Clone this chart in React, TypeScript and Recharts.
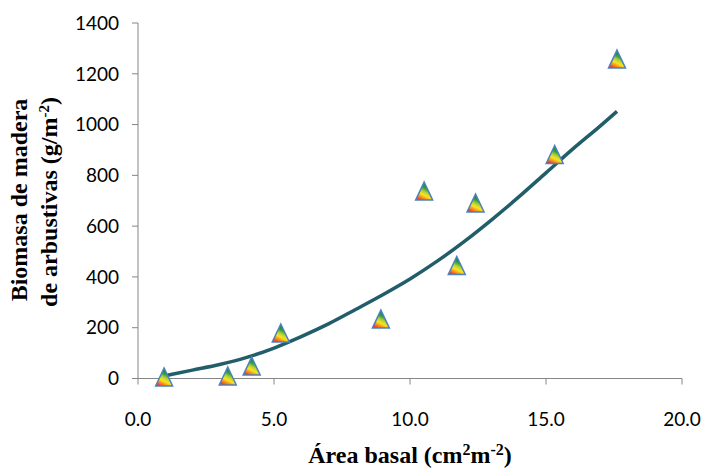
import { ComposedChart, Line, Scatter, XAxis, YAxis } from 'recharts';

// measured points (área basal vs biomasa)
const POINT_X = [0.96, 3.3, 4.18, 5.25, 8.93, 10.52, 11.72, 12.41, 15.32, 17.61];
const POINT_Y = [6, 10, 49, 179, 234, 738, 445, 691, 882, 1258];

// fitted trend line
const TREND_X = [0.96, 2, 3, 4, 5, 6, 7, 8, 9, 10, 11, 12, 13, 14, 15, 16, 17, 17.61];
const TREND_Y = [10, 33, 55, 83, 120, 165, 215, 272, 330, 392, 462, 540, 625, 715, 810, 905, 995, 1052];

const X_TICKS = [0, 5, 10, 15, 20];
const Y_TICKS = [0, 200, 400, 600, 800, 1000, 1200, 1400];

const AXIS_GRAY = '#868686';
const TREND_COLOR = '#215e6a';
const TICK_FONT = 'Lato, "Liberation Sans", sans-serif';
const TITLE_FONT = '"Liberation Serif", "Times New Roman", serif';

const points = POINT_X.map((x, i) => ({ x, y: POINT_Y[i] }));
const trend = TREND_X.map((x, i) => ({ x, y: TREND_Y[i] }));

function TriangleMarker(props: { cx?: number; cy?: number }) {
  const { cx, cy } = props;
  if (cx == null || cy == null) return null;
  const w = 17;
  const h = 18;
  const d = `M${cx},${cy - h / 2} L${cx + w / 2},${cy + h / 2} L${cx - w / 2},${cy + h / 2} Z`;
  return <path d={d} fill="url(#rainbowFill)" stroke="#4f81bd" strokeWidth={1.5} strokeLinejoin="miter" />;
}

export default function App() {
  return (
    <div style={{ position: 'absolute', left: 0, top: 0, width: 704, height: 476, background: '#fff' }}>
      <ComposedChart width={704} height={476} margin={{ top: 23, right: 22, left: 78, bottom: 37.5 }}>
        <defs>
          <linearGradient id="rainbowFill" x1="0.1" y1="1" x2="0.5" y2="0.1">
            <stop offset="0" stopColor="#e5132b" />
            <stop offset="0.22" stopColor="#f6821f" />
            <stop offset="0.42" stopColor="#f9e51c" />
            <stop offset="0.6" stopColor="#b4d336" />
            <stop offset="0.8" stopColor="#2e9e3e" />
            <stop offset="1" stopColor="#13843a" />
          </linearGradient>
        </defs>
        <XAxis
          type="number"
          dataKey="x"
          domain={[0, 20]}
          ticks={X_TICKS}
          tickFormatter={(v) => Number(v).toFixed(1)}
          height={60}
          tickSize={6}
          tickMargin={28}
          stroke={AXIS_GRAY}
          tick={{ fill: '#000', fontSize: 19, fontFamily: TICK_FONT }}
        />
        <YAxis
          type="number"
          dataKey="y"
          domain={[0, 1400]}
          ticks={Y_TICKS}
          width={60}
          tickSize={6}
          tickMargin={13}
          stroke={AXIS_GRAY}
          tick={{ fill: '#000', fontSize: 19, fontFamily: TICK_FONT }}
        />
        <Line
          data={trend}
          dataKey="y"
          type="monotone"
          stroke={TREND_COLOR}
          strokeWidth={3.5}
          dot={false}
          activeDot={false}
          isAnimationActive={false}
        />
        <Scatter data={points} dataKey="y" shape={<TriangleMarker />} isAnimationActive={false} />
      </ComposedChart>

      <svg
        width={704}
        height={476}
        style={{ position: 'absolute', left: 0, top: 0, pointerEvents: 'none' }}
      >
        <text x={410} y={463} textAnchor="middle" fontFamily={TITLE_FONT} fontWeight="bold" fontSize={24}>
          Área basal (cm<tspan dy={-8} fontSize={16}>2</tspan>
          <tspan dy={8}>m</tspan>
          <tspan dy={-8} fontSize={16}>-2</tspan>
          <tspan dy={8}>)</tspan>
        </text>
        <text
          transform="translate(27,200) rotate(-90)"
          textAnchor="middle"
          fontFamily={TITLE_FONT}
          fontWeight="bold"
          fontSize={24}
        >
          Biomasa de madera
        </text>
        <text
          transform="translate(57,202) rotate(-90)"
          textAnchor="middle"
          fontFamily={TITLE_FONT}
          fontWeight="bold"
          fontSize={24}
        >
          de arbustivas (g/m<tspan dy={-8} fontSize={15}>-2</tspan>
          <tspan dy={8}>)</tspan>
        </text>
      </svg>
    </div>
  );
}
